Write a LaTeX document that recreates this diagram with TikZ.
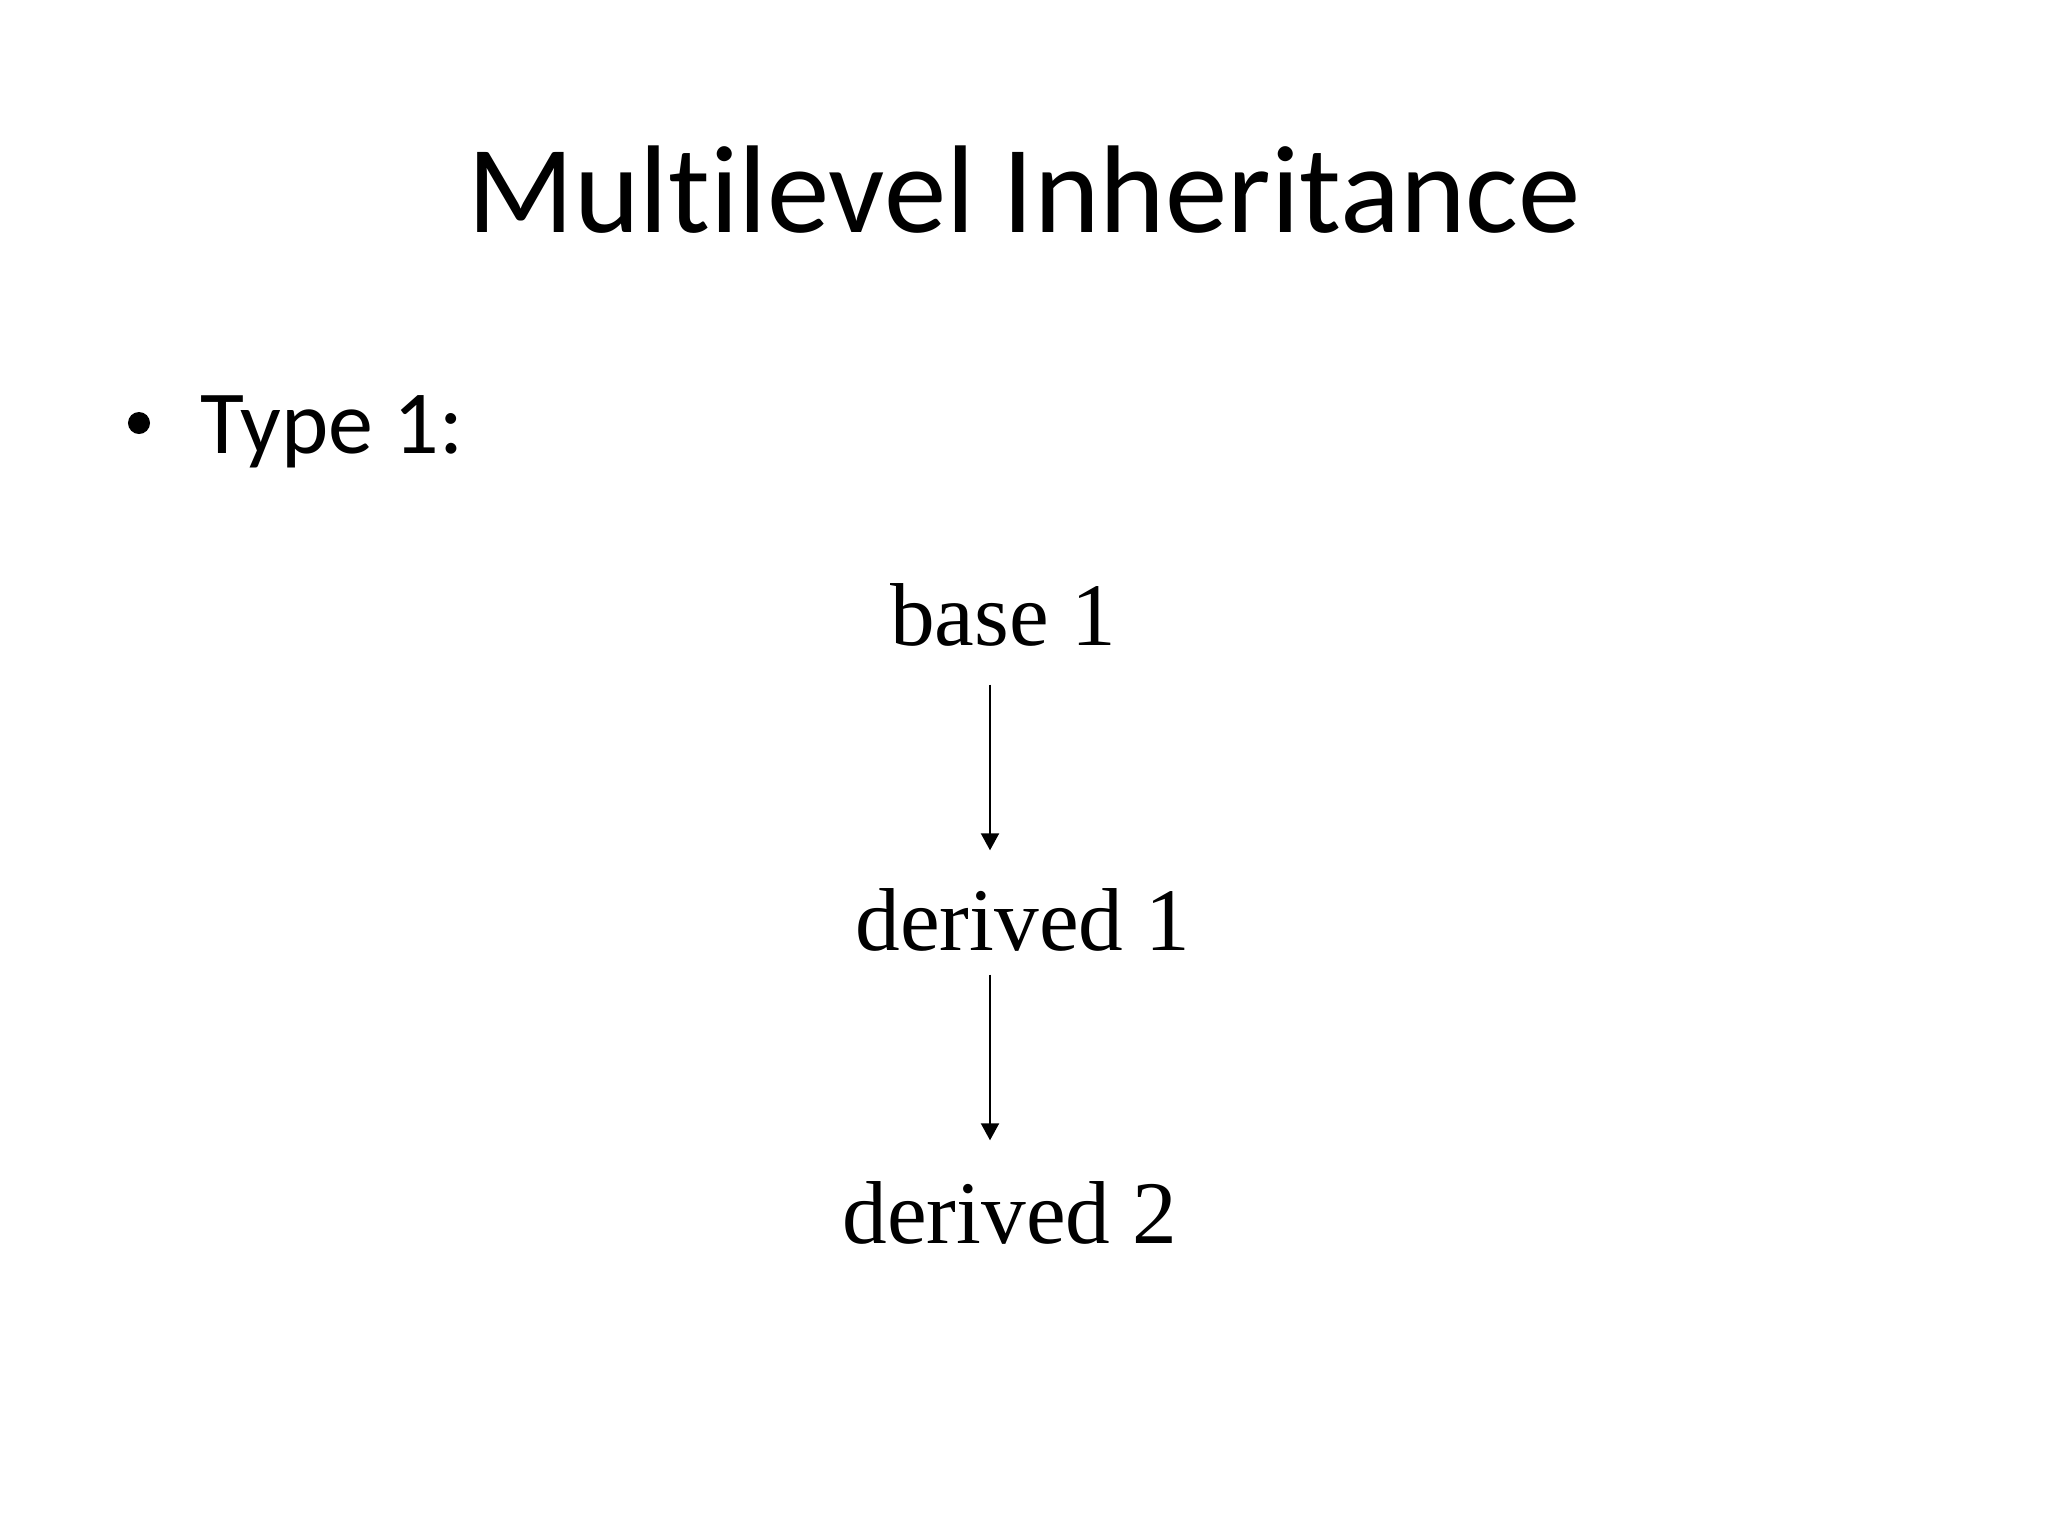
\documentclass[tikz,border=0pt]{standalone}
\usepackage{fontspec}
\setmainfont{Liberation Serif}
\newfontfamily\titlefont{Carlito}[Ligatures={NoCommon}]
\usetikzlibrary{arrows.meta}
\begin{document}
\begin{tikzpicture}[x=0.01cm,y=-0.01cm,
  titletext/.style={anchor=base, inner sep=0pt, font=\titlefont\fontsize{35.5}{42}\selectfont},
  bullettext/.style={anchor=base west, inner sep=0pt, font=\titlefont\fontsize{25.6}{30}\selectfont},
  bulletdot/.style={circle, fill=black, inner sep=0pt, minimum size=0.22cm},
  classtext/.style={anchor=base, inner sep=0pt, font=\fontsize{25.4}{30}\selectfont},
  arr/.style={-{Triangle[length=0.17cm,width=0.18cm]}, line width=0.6pt, black}]
  \useasboundingbox[fill=white] (0,0) rectangle (2048,1536);
  \node[titletext] (title) at (1024,232) {Multilevel Inheritance};
  \node[bulletdot] (dot) at (139,423) {};
  \node[bullettext] (type) at (200,453) {Type 1:};
  \node[classtext] (b1) at (1003,645) {base 1};
  \node[classtext] (d1) at (1023,950) {derived 1};
  \node[classtext] (d2) at (1010,1243) {derived 2};
  \coordinate (ax) at (990,0);
  \draw[arr, shorten <=0.38cm, shorten >=0.37cm] (b1.south -| ax) -- (d1.north -| ax);
  \draw[arr, shorten <=0.23cm, shorten >=0.40cm] (d1.south -| ax) -- (d2.north -| ax);
\end{tikzpicture}
\end{document}
